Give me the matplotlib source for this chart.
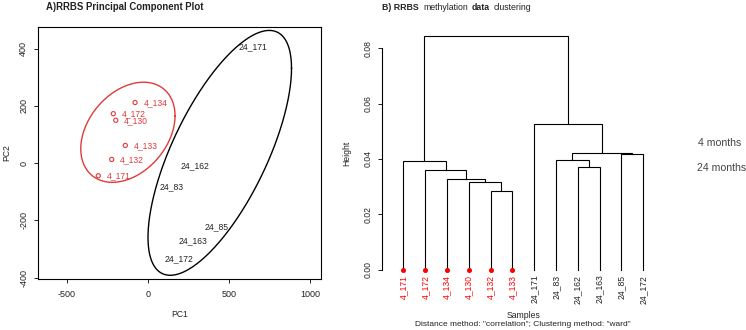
import matplotlib
matplotlib.use("Agg")
import matplotlib.pyplot as plt
import numpy as np

plt.rcParams["font.family"] = ["Liberation Sans", "DejaVu Sans"]
plt.rcParams["axes.unicode_minus"] = False

# PCA scores, 4 month samples (red circles with labels)
young_names = ["4_134", "4_172", "4_130", "4_133", "4_132", "4_171"]
young_pc1 = [-80, -214, -199, -140, -224, -307]
young_pc2 = [212, 173, 150, 62, 13, -44]

# PCA scores, 24 month samples (text only)
old_names = ["24_171", "24_162", "24_83", "24_85", "24_163", "24_172"]
old_pc1 = [648, 290, 148, 426, 278, 191]
old_pc2 = [407, -10, -83, -222, -271, -334]

# group ellipses: centre, sd of pc1 / pc2, correlation
red_centre = [-124, 108]
red_sd = [291, 175]
red_r = 0.33
black_centre = [443, 36]
black_sd = [443, 428]
black_r = 0.69

# dendrogram, leaves in plotted order
leaf_labels = ["4_171", "4_172", "4_134", "4_130", "4_132", "4_133",
               "24_171", "24_83", "24_162", "24_163", "24_85", "24_172"]
# R style merge matrix: negative = leaf (1-based), positive = earlier merge
merge_left = [-5, -4, -3, -2, -1, -9, -8, -11, 7, -7, 5]
merge_right = [-6, 1, 2, 3, 4, -10, 6, -12, 8, 9, 10]
merge_height = [0.0286, 0.0318, 0.0327, 0.0362, 0.0394, 0.0370,
                0.0396, 0.0419, 0.0421, 0.0527, 0.0843]

RED = "#e23a3a"
INK = "#222222"
W, H = 746, 330

fig = plt.figure(figsize=(W / 100, H / 100), dpi=100)


def ellipse(centre, sd, r, n=300):
    t = np.linspace(0, 2 * np.pi, n)
    x = centre[0] + sd[0] * np.cos(t)
    y = centre[1] + sd[1] * (r * np.cos(t) + np.sqrt(1 - r ** 2) * np.sin(t))
    return x, y


# ---------------- A) PCA ----------------
ax = fig.add_axes([38 / W, 1 - 279 / H, 283 / W, 252 / H])
ax.set_xlim(-679, 1068)
ax.set_ylim(-405, 476)

ex, ey = ellipse(red_centre, red_sd, red_r)
ax.plot(ex, ey, color=RED, lw=1.0)
ex, ey = ellipse(black_centre, black_sd, black_r)
ax.plot(ex, ey, color="black", lw=1.0)

ax.scatter(young_pc1, young_pc2, s=9, facecolors="none", edgecolors=RED,
           linewidths=0.8)
for name, x, y in zip(young_names, young_pc1, young_pc2):
    ax.annotate(name, (x, y), xytext=(6, 0), textcoords="offset points",
                ha="left", va="center", color=RED, fontsize=6.2)
for name, x, y in zip(old_names, old_pc1, old_pc2):
    ax.text(x, y, name, ha="center", va="center", color=INK, fontsize=6.2)

ax.set_xticks([-500, 0, 500, 1000])
ax.set_yticks([-400, -200, 0, 200, 400])
ax.tick_params(direction="out", length=3, width=0.7, labelsize=6.5,
               colors=INK)
ax.tick_params(axis="x", pad=5)
ax.tick_params(axis="y", pad=4)
for lab in ax.get_yticklabels():
    lab.set_rotation(90)
    lab.set_va("center")
for sp in ax.spines.values():
    sp.set_linewidth(0.8)
ax.text(0.5, -0.139, "PC1", transform=ax.transAxes, ha="center", va="center",
        fontsize=6.2, color=INK)
ax.text(-0.11, 0.5, "PC2", transform=ax.transAxes, ha="center", va="center",
        rotation=90, fontsize=6.2, color=INK)
fig.text(46 / W, 1 - 7 / H, "A)RRBS Principal Component Plot", ha="left",
         va="center", fontsize=6.9, fontweight="bold", color=INK)

# ---------------- B) dendrogram ----------------
bx = fig.add_axes([382 / W, 1 - 279 / H, 282.5 / W, 252 / H])
n = len(leaf_labels)
bx.set_xlim(0.02, n + 0.98)
bx.set_ylim(-0.00337, 0.0877)

node_x, node_y = [], []


def child(idx):
    if idx < 0:
        return -idx, 0.0
    return node_x[idx - 1], node_y[idx - 1]


for lft, rgt, h in zip(merge_left, merge_right, merge_height):
    x1, y1 = child(lft)
    x2, y2 = child(rgt)
    bx.plot([x1, x1, x2, x2], [y1, h, h, y2], color="black", lw=0.8,
            solid_joinstyle="miter")
    node_x.append((x1 + x2) / 2)
    node_y.append(h)

for i, lab in enumerate(leaf_labels, start=1):
    young = lab.startswith("4_")
    if young:
        bx.plot(i, 0, "o", color="red", ms=2.6)
    bx.text(i, -0.0018, lab, rotation=90, ha="center", va="top",
            color="red" if young else INK, fontsize=6.2)

for side in ["top", "right", "bottom"]:
    bx.spines[side].set_visible(False)
bx.spines["left"].set_bounds(0, 0.08)
bx.spines["left"].set_linewidth(0.8)
bx.set_xticks([])
bx.set_yticks([0, 0.02, 0.04, 0.06, 0.08])
bx.set_yticklabels(["0.00", "0.02", "0.04", "0.06", "0.08"])
bx.tick_params(axis="y", direction="out", length=3, width=0.7, labelsize=6.2,
               pad=4, colors=INK)
for lab in bx.get_yticklabels():
    lab.set_rotation(90)
    lab.set_va("center")
bx.text(-0.124, 0.5, "Height", transform=bx.transAxes, ha="center",
        va="center", rotation=90, fontsize=6.2, color=INK)
fig.text(524 / W, 1 - 315 / H, "Samples", ha="center", va="center",
         fontsize=6.2, color=INK)
fig.text(523 / W, 1 - 324.5 / H,
         'Distance method: "correlation"; Clustering method: "ward"',
         ha="center", va="center", fontsize=6, color=INK)

# title with mixed weights
title_parts = [("B) RRBS", "bold", 382.5), ("methylation", "normal", 423.5),
               ("data", "bold", 471.7), ("clustering", "normal", 493.5)]
for txt, wt, px in title_parts:
    fig.text(px / W, 1 - 7 / H, txt, ha="left", va="center", fontsize=6.3,
             fontweight=wt, color=INK)

# group legend on the right
fig.text(698 / W, 1 - 143 / H, "4 months", ha="left", va="center",
         fontsize=7.6, color="#444444")
fig.text(697 / W, 1 - 168 / H, "24 months", ha="left", va="center",
         fontsize=7.6, color="#444444")

fig.savefig("out.png", dpi=100)
